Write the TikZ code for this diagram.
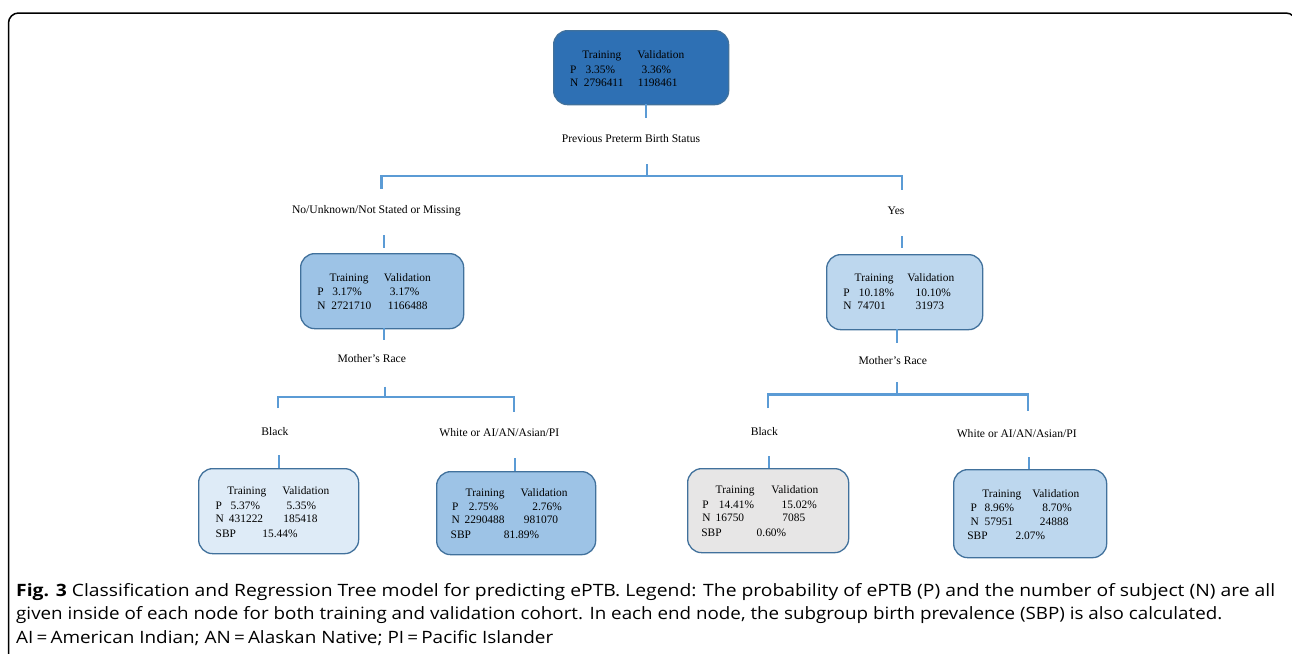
\documentclass[tikz,border=0pt]{standalone}
\usepackage{fontspec}
\usepackage{graphicx}
\setmainfont{Liberation Serif}
\newfontfamily\capfont{Open Sans}
\definecolor{croot}{RGB}{46,112,180}
\definecolor{cmid}{RGB}{157,195,230}
\definecolor{clight}{RGB}{189,215,238}
\definecolor{cpale}{RGB}{222,235,247}
\definecolor{cgray}{RGB}{231,230,230}
\definecolor{boxline}{RGB}{65,113,156}
\definecolor{connc}{RGB}{91,155,213}
\newcommand{\at}[2]{\rlap{\hspace*{#1pt}#2}}
\tikzset{
  box/.style={draw=boxline, line width=1.3pt, rounded corners=14pt, inner sep=0pt, anchor=north west},
  conn/.style={draw=connc, line width=2.6pt},
  lbl/.style={font=\fontsize{11.6}{13}\selectfont, inner sep=0pt, anchor=base},
  txt/.style={font=\fontsize{11.4}{13}\selectfont, inner sep=0pt, anchor=base west},
  captxt/.style={font=\capfont\fontsize{17}{20}\selectfont, inner sep=0pt, anchor=base west},
}
\begin{document}
\begin{tikzpicture}[x=1pt,y=-1pt]
\useasboundingbox (0,0) rectangle (1292,653);
\clip (0,0) rectangle (1292,653);
% frame
\draw[line width=1.5pt, rounded corners=10pt] (8.5,700) -- (8.5,13) -- (1296,13) -- (1296,700);

% boxes
\node[box, fill=croot, minimum width=175pt, minimum height=74pt] (root) at (553,30) {};
\node[box, fill=cmid, minimum width=163pt, minimum height=75pt] (left) at (300,253) {};
\node[box, fill=clight, minimum width=156pt, minimum height=75pt] (right) at (826,254) {};
\node[box, fill=cpale, minimum width=160pt, minimum height=85pt] (lb) at (198,468) {};
\node[box, fill=cmid, minimum width=159pt, minimum height=83pt] (lw) at (436,471) {};
\node[box, fill=cgray, minimum width=161pt, minimum height=84pt] (rb) at (687,468) {};
\node[box, fill=clight, minimum width=153pt, minimum height=88pt] (rw) at (953,469) {};

% box texts
\node[txt] (rootA) at (0,58) {\at{581.7}{Training}\at{636.7}{Validation}};
\node[txt] (rootB) at (0,73) {\at{569.3}{P}\at{585}{3.35\%}\at{641}{3.36\%}};
\node[txt] (rootC) at (0,86.7) {\at{569.3}{N}\at{583.3}{2796411}\at{637.3}{1198461}};

\node[txt] (leftA) at (0,281.3) {\at{329}{Training}\at{383.3}{Validation}};
\node[txt] (leftB) at (0,295.7) {\at{316.7}{P}\at{331.7}{3.17\%}\at{389.3}{3.17\%}};
\node[txt] (leftC) at (0,309) {\at{316.7}{N}\at{330.7}{2721710}\at{387.3}{1166488}};

\node[txt] (rightA) at (0,281.7) {\at{854}{Training}\at{906.7}{Validation}};
\node[txt] (rightB) at (0,296.3) {\at{842.7}{P}\at{858.3}{10.18\%}\at{915}{10.10\%}};
\node[txt] (rightC) at (0,309.7) {\at{842.7}{N}\at{856.7}{74701}\at{915}{31973}};

\node[txt] (lbA) at (0,494) {\at{226.7}{Training}\at{281.7}{Validation}};
\node[txt] (lbB) at (0,509.7) {\at{215}{P}\at{230}{5.37\%}\at{286}{5.35\%}};
\node[txt] (lbC) at (0,522.3) {\at{215}{N}\at{228.3}{431222}\at{282.7}{185418}};
\node[txt] (lbD) at (0,537.3) {\at{215}{SBP}\at{261.7}{15.44\%}};

\node[txt] (lwA) at (0,496.3) {\at{465}{Training}\at{520}{Validation}};
\node[txt] (lwB) at (0,510) {\at{451.5}{P}\at{468.3}{2.75\%}\at{531.7}{2.76\%}};
\node[txt] (lwC) at (0,523.3) {\at{451}{N}\at{464}{2290488}\at{523.3}{981070}};
\node[txt] (lwD) at (0,538.3) {\at{450}{SBP}\at{503.3}{81.89\%}};

\node[txt] (rbA) at (0,493.3) {\at{715}{Training}\at{770.7}{Validation}};
\node[txt] (rbB) at (0,508) {\at{701.7}{P}\at{718.3}{14.41\%}\at{781}{15.02\%}};
\node[txt] (rbC) at (0,521.7) {\at{701.7}{N}\at{715}{16750}\at{781.7}{7085}};
\node[txt] (rbD) at (0,536.7) {\at{700.7}{SBP}\at{756}{0.60\%}};

\node[txt] (rwA) at (0,497.3) {\at{981.7}{Training}\at{1031.7}{Validation}};
\node[txt] (rwB) at (0,511.3) {\at{970}{P}\at{984}{8.96\%}\at{1041.7}{8.70\%}};
\node[txt] (rwC) at (0,525) {\at{970}{N}\at{984}{57951}\at{1039.3}{24888}};
\node[txt] (rwD) at (0,539) {\at{966.7}{SBP}\at{1015}{2.07\%}};

% labels
\node[lbl] (l0) at (631,142) {Previous Preterm Birth Status};
\node[lbl] (l1) at (376.3,213) {No/Unknown/Not Stated or Missing};
\node[lbl] (l2) at (896,214) {Yes};
\node[lbl] (l3) at (371.8,362) {Mother’s Race};
\node[lbl] (l4) at (892.8,364) {Mother’s Race};
\node[lbl] (l5) at (275,435.7) {Black};
\node[lbl] (l6) at (499.3,436.3) {White or AI/AN/Asian/PI};
\node[lbl] (l7) at (764.3,435) {Black};
\node[lbl] (l8) at (1016.7,437.3) {White or AI/AN/Asian/PI};

% connector coordinates
\coordinate (r0) at (646,104);  \coordinate (r1) at (646,118);
\coordinate (s0) at (647,164);  \coordinate (s1) at (647,176);
\coordinate (sl) at (381.7,176); \coordinate (sr) at (902,176);
\coordinate (slb) at (381.7,188.5); \coordinate (srb) at (902,190);
\coordinate (tl0) at (384,235); \coordinate (tl1) at (384,247.5);
\coordinate (tr0) at (902,236); \coordinate (tr1) at (902,248);
\coordinate (ul0) at (384,328); \coordinate (ul1) at (384,340);
\coordinate (ur0) at (897,329); \coordinate (ur1) at (897,343);
% level 2 left
\coordinate (m0) at (385,386.5); \coordinate (m1) at (385,397);
\coordinate (ml) at (278,397); \coordinate (mr) at (514,397);
\coordinate (mlb) at (278,408); \coordinate (mrb) at (514,412);
\coordinate (bl0) at (279,455); \coordinate (bl1) at (279,468);
\coordinate (wl0) at (515,458); \coordinate (wl1) at (515,471);
% level 2 right
\coordinate (n0) at (897,382); \coordinate (n1) at (897,394.5);
\coordinate (nl) at (768,394.5); \coordinate (nr) at (1028,394.5);
\coordinate (nlb) at (768,408); \coordinate (nrb) at (1028,411);
\coordinate (br0) at (769,456); \coordinate (br1) at (769,468);
\coordinate (wr0) at (1029,457); \coordinate (wr1) at (1029,469);

\draw[conn] (r0) -- (r1);
\draw[conn] (s0) -- (s1);
\draw[conn] (slb) -- (sl) -- (sr) -- (srb);
\draw[conn] (tl0) -- (tl1);
\draw[conn] (tr0) -- (tr1);
\draw[conn] (ul0) -- (ul1);
\draw[conn] (ur0) -- (ur1);
\draw[conn] (m0) -- (m1);
\draw[conn] (mlb) -- (ml) -- (mr) -- (mrb);
\draw[conn] (bl0) -- (bl1);
\draw[conn] (wl0) -- (wl1);
\draw[conn] (n0) -- (n1);
\draw[conn] (nlb) -- (nl) -- (nr) -- (nrb);
\draw[conn] (br0) -- (br1);
\draw[conn] (wr0) -- (wr1);

% caption
\node[captxt] (cap1) at (16,596) {\resizebox{1259pt}{\height}{\textbf{Fig. 3} Classification and Regression Tree model for predicting ePTB. Legend: The probability of ePTB (P) and the number of subject (N) are all}};
\node[captxt] (cap2) at (16,619.5) {\resizebox{1206pt}{\height}{given inside of each node for both training and validation cohort. In each end node, the subgroup birth prevalence (SBP) is also calculated.}};
\node[captxt] (cap3) at (16,643) {\resizebox{537pt}{\height}{AI\,=\,American Indian; AN\,=\,Alaskan Native; PI\,=\,Pacific Islander}};
\end{tikzpicture}
\end{document}
